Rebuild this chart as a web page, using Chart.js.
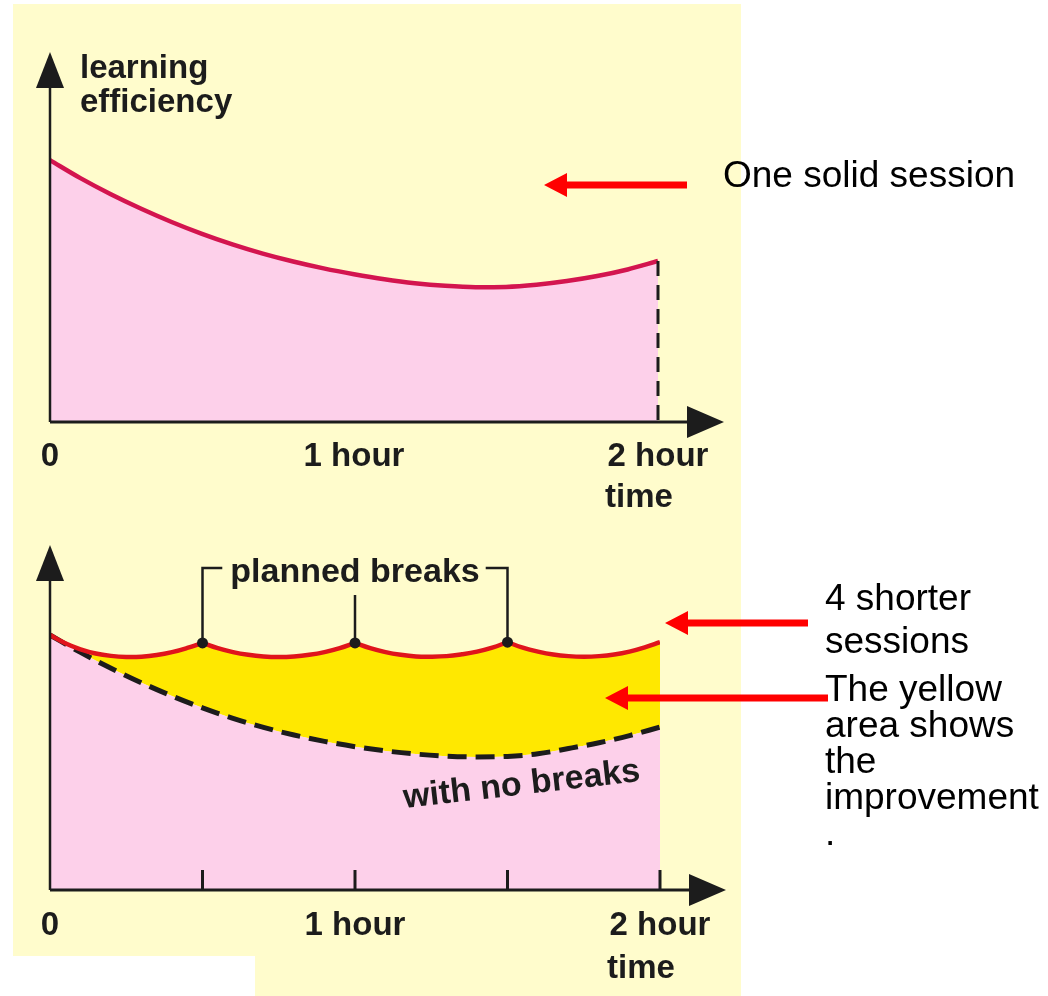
<!DOCTYPE html>
<html>
<head>
<meta charset="utf-8">
<script src="https://cdn.jsdelivr.net/npm/chart.js@4.4.0/dist/chart.umd.min.js"></script>
<style>
  body { margin: 0; background: #fff; width: 1048px; height: 996px; overflow: hidden; position: relative; font-family: "Liberation Sans", Arial, sans-serif; }
  #panel { position: absolute; left: 13px; top: 4px; width: 728px; height: 992px; background: #fffccc; }
  #notch { position: absolute; left: 0; top: 956px; width: 255px; height: 40px; background: #fff; }
  .wrap { position: absolute; left: 0; width: 1048px; }
  #topWrap { top: 0; height: 510px; }
  #botWrap { top: 510px; height: 486px; }
  .note { position: absolute; font-size: 37px; color: #000; white-space: nowrap; }
  #arrows { position: absolute; left: 0; top: 0; }
</style>
</head>
<body>
<div id="panel"></div>
<div id="notch"></div>
<div class="wrap" id="topWrap"><canvas id="topChart" width="1048" height="510"></canvas></div>
<div class="wrap" id="botWrap"><canvas id="botChart" width="1048" height="486"></canvas></div>

<svg id="arrows" width="1048" height="996">
  <polygon fill="#ff0000" points="544,185 567,173 567,181.5 687,181.5 687,188.5 567,188.5 567,197"/>
  <polygon fill="#ff0000" points="665,623 688,611 688,619.5 808,619.5 808,626.5 688,626.5 688,635"/>
  <polygon fill="#ff0000" points="605,698 628,686 628,694.5 828,694.5 828,701.5 628,701.5 628,710"/>
</svg>

<div class="note" style="left:723px; top:155px; line-height:40px;">One solid session</div>
<div class="note" style="left:825px; top:576px; line-height:43px;">4 shorter<br>sessions</div>
<div class="note" style="left:825px; top:671px; line-height:36px;">The yellow<br>area shows<br>the<br>improvement<br>.</div>

<script>
// time axis, hours
var hours = [0, 0.1, 0.2, 0.3, 0.4, 0.5, 0.6, 0.7, 0.8, 0.9, 1.0,
             1.1, 1.2, 1.3, 1.4, 1.5, 1.6, 1.7, 1.8, 1.9, 2.0];

// top chart: one solid session
var oneSession = [99.2, 92.4, 86.3, 80.8, 75.8, 71.3, 67.3, 63.8, 60.8, 58.2, 56.0,
                  54.1, 52.6, 51.6, 51.1, 51.2, 52.0, 53.4, 55.3, 57.8, 61.0];

// bottom chart: same work with no breaks (dashed)
var noBreaks = [96.6, 90.0, 84.0, 78.5, 73.5, 69.0, 65.0, 61.6, 58.7, 56.3, 54.3,
                52.7, 51.5, 50.7, 50.4, 50.6, 51.6, 53.6, 55.8, 58.5, 61.7];

// bottom chart: 4 shorter sessions
var shortHours = [0, 0.05, 0.1, 0.15, 0.2, 0.25, 0.3, 0.35, 0.4, 0.45, 0.5,
                  0.55, 0.6, 0.65, 0.7, 0.75, 0.8, 0.85, 0.9, 0.95, 1.0,
                  1.05, 1.1, 1.15, 1.2, 1.25, 1.3, 1.35, 1.4, 1.45, 1.5,
                  1.55, 1.6, 1.65, 1.7, 1.75, 1.8, 1.85, 1.9, 1.95, 2.0];
var shortSessions = [96.6, 93.5, 91.2, 89.6, 88.7, 88.3, 88.4, 89.0, 90.1, 91.7, 93.6,
                     91.6, 90.1, 89.1, 88.5, 88.3, 88.5, 89.1, 90.1, 91.6, 93.6,
                     91.6, 90.1, 89.1, 88.5, 88.4, 88.6, 89.3, 90.3, 91.8, 93.9,
                     91.8, 90.3, 89.2, 88.6, 88.4, 88.6, 89.2, 90.3, 91.9, 93.9];

var breakHours = [0.5, 1.0, 1.5];
var tickHours = [0.5, 1.0, 1.5, 2.0];
var labelHours = [0, 1, 2];
var labelText = ["0", "1 hour", "2 hour"];

var ink = "#1c1c1c";
var labelFont = 'bold 33px "Liberation Sans", Arial, sans-serif';

function valueAt(xs, ys, h) {
    return ys[xs.indexOf(h)];
}

var shortPoints = shortHours.map(function (h, i) { return {x: h, y: shortSessions[i]}; });

// red line, cut at every break so each session is its own arc
var sessionPoints = [];
shortHours.forEach(function (h, i) {
    sessionPoints.push({x: h, y: shortSessions[i]});
    if (breakHours.indexOf(h) >= 0) {
        sessionPoints.push({x: h, y: null});
        sessionPoints.push({x: h, y: shortSessions[i]});
    }
});

/**
 * Axes with arrow heads, tick labels and "time"
 */
var axesPlugin = {
    id: 'axes',
    afterDatasetsDraw: function (chart, args, opts) {
        var ctx = chart.ctx, a = chart.chartArea;
        var x = chart.scales.x;
        ctx.save();
        ctx.strokeStyle = ink;
        ctx.fillStyle = ink;
        ctx.lineWidth = 2.5;

        // y axis
        ctx.beginPath();
        ctx.moveTo(a.left, a.bottom);
        ctx.lineTo(a.left, a.top + 30);
        ctx.stroke();
        ctx.beginPath();
        ctx.moveTo(a.left, a.top);
        ctx.lineTo(a.left - 14, a.top + 36);
        ctx.lineTo(a.left + 14, a.top + 36);
        ctx.closePath();
        ctx.fill();

        // x axis
        var tip = x.getPixelForValue(2) + 66;
        ctx.lineWidth = 3;
        ctx.beginPath();
        ctx.moveTo(a.left, a.bottom);
        ctx.lineTo(tip - 30, a.bottom);
        ctx.stroke();
        ctx.beginPath();
        ctx.moveTo(tip, a.bottom);
        ctx.lineTo(tip - 37, a.bottom - 16);
        ctx.lineTo(tip - 37, a.bottom + 16);
        ctx.closePath();
        ctx.fill();

        (opts.ticks || []).forEach(function (h) {
            var px = x.getPixelForValue(h);
            ctx.beginPath();
            ctx.moveTo(px, a.bottom);
            ctx.lineTo(px, a.bottom - 20);
            ctx.stroke();
        });

        ctx.font = labelFont;
        ctx.textAlign = 'center';
        labelHours.forEach(function (h, i) {
            ctx.fillText(labelText[i], x.getPixelForValue(h), a.bottom + opts.labelGap);
        });
        ctx.textAlign = 'left';
        ctx.fillText('time', x.getPixelForValue(2) - 53, a.bottom + opts.timeGap);

        (opts.yTitle || []).forEach(function (t, i) {
            ctx.fillText(t, a.left + 30, a.top + 26 + i * 34);
        });
        ctx.restore();
    }
};

/**
 * "planned breaks" bracket and "with no breaks" label
 */
var notesPlugin = {
    id: 'notes',
    afterDatasetsDraw: function (chart) {
        var ctx = chart.ctx, a = chart.chartArea;
        var x = chart.scales.x, y = chart.scales.y;
        var pts = breakHours.map(function (h) {
            return {x: x.getPixelForValue(h), y: y.getPixelForValue(valueAt(shortHours, shortSessions, h))};
        });
        ctx.save();
        ctx.strokeStyle = ink;
        ctx.fillStyle = ink;
        ctx.lineWidth = 2.5;
        ctx.font = 'bold 34px "Liberation Sans", Arial, sans-serif';
        ctx.textAlign = 'center';
        var label = 'planned breaks';
        var w = ctx.measureText(label).width;
        var bracketY = a.top + 23;
        var cx = pts[1].x;
        ctx.fillText(label, cx, bracketY + 14);
        var left = cx - w / 2 - 8, right = cx + w / 2 + 6;

        ctx.beginPath();
        ctx.moveTo(pts[0].x, pts[0].y);
        ctx.lineTo(pts[0].x, bracketY);
        ctx.lineTo(left, bracketY);
        ctx.moveTo(pts[1].x, bracketY + 27);
        ctx.lineTo(pts[1].x, pts[1].y);
        ctx.moveTo(right, bracketY);
        ctx.lineTo(pts[2].x, bracketY);
        ctx.lineTo(pts[2].x, pts[2].y);
        ctx.stroke();

        // rotated label under the dashed curve
        var lx = x.getPixelForValue(1.55);
        var ly = y.getPixelForValue(valueAt(hours, noBreaks, 1.5)) + 38;
        ctx.translate(lx, ly);
        ctx.rotate(-6.5 * Math.PI / 180);
        ctx.font = 'bold 34px "Liberation Sans", Arial, sans-serif';
        ctx.fillText('with no breaks', 0, 0);
        ctx.restore();
    }
};

var baseOptions = function (pad, yMax, plugOpts) {
    return {
        responsive: false,
        animation: false,
        events: [],
        layout: {padding: pad},
        scales: {
            x: {type: 'linear', min: 0, max: 2, display: false},
            y: {min: 0, max: yMax, display: false}
        },
        elements: {point: {radius: 0}},
        plugins: {legend: {display: false}, tooltip: {enabled: false}, axes: plugOpts}
    };
};

// top chart
new Chart(document.getElementById("topChart").getContext("2d"), {
    type: 'line',
    data: {
        datasets: [
            {
                data: hours.map(function (h, i) { return {x: h, y: oneSession[i]}; }),
                borderColor: "#d3154f",
                borderWidth: 4.5,
                backgroundColor: "#fdd0ea",
                fill: 'origin',
                cubicInterpolationMode: 'monotone',
                order: 1
            },
            {
                data: [{x: 2, y: oneSession[oneSession.length - 1]}, {x: 2, y: 0}],
                borderColor: ink,
                borderWidth: 3,
                borderDash: [15, 9],
                fill: false,
                clip: 6,
                order: 0
            }
        ]
    },
    options: baseOptions({left: 50, right: 390, top: 52, bottom: 88}, 140.2,
        {labelGap: 44, timeGap: 85, yTitle: ["learning", "efficiency"]}),
    plugins: [axesPlugin]
});

// bottom chart
new Chart(document.getElementById("botChart").getContext("2d"), {
    type: 'line',
    data: {
        datasets: [
            {
                data: breakHours.map(function (h) { return {x: h, y: valueAt(shortHours, shortSessions, h)}; }),
                showLine: false,
                pointRadius: 5.5,
                pointBackgroundColor: ink,
                pointBorderWidth: 0,
                order: 0
            },
            {
                data: sessionPoints,
                borderColor: "#e0141c",
                borderWidth: 4.5,
                fill: false,
                tension: 0.4,
                spanGaps: false,
                order: 1
            },
            {
                data: hours.map(function (h, i) { return {x: h, y: noBreaks[i]}; }),
                borderColor: ink,
                borderWidth: 5,
                borderDash: [19, 9],
                backgroundColor: "#fdd0ea",
                fill: 'origin',
                cubicInterpolationMode: 'monotone',
                order: 2
            },
            {
                // yellow improvement area between the sessions and the no-break curve
                data: shortPoints,
                borderWidth: 0,
                backgroundColor: "#ffe800",
                fill: 2,
                tension: 0,
                order: 3
            }
        ]
    },
    options: baseOptions({left: 50, right: 388, top: 35, bottom: 106}, 130.7,
        {labelGap: 45, timeGap: 88, ticks: tickHours}),
    plugins: [axesPlugin, notesPlugin]
});
</script>
</body>
</html>
